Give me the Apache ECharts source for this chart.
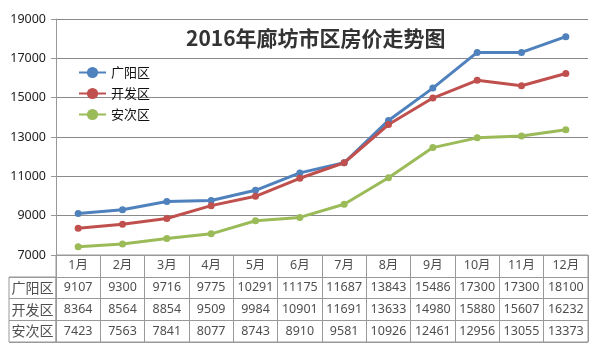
<!DOCTYPE html>
<html><head><meta charset="utf-8">
<script src="https://cdn.jsdelivr.net/npm/echarts@6/dist/echarts.min.js"></script>
<style>html,body{margin:0;padding:0;background:#fff}#c{width:602px;height:356px}</style>
</head><body><div id="c"></div>
<script>
const months = ['1月','2月','3月','4月','5月','6月','7月','8月','9月','10月','11月','12月'];
const seriesNames = ['广阳区','开发区','安次区'];
const guangyang = [9107,9300,9716,9775,10291,11175,11687,13843,15486,17300,17300,18100];
const kaifa = [8364,8564,8854,9509,9984,10901,11691,13633,14980,15880,15607,16232];
const anci = [7423,7563,7841,8077,8743,8910,9581,10926,12461,12956,13055,13373];
const yTicks = {min:7000, max:19000, interval:2000};
const colors = ['#4F81BD','#C0504D','#9BBB59'];
const allValues = [guangyang, kaifa, anci];

const font = 'Noto Sans, Noto Sans CJK SC, sans-serif';
const cells = [];
months.forEach((m,i)=>cells.push([i,0,m]));
allValues.forEach((arr,r)=>arr.forEach((v,i)=>cells.push([i,r+1,String(v)])));
const rowCells = seriesNames.map((n,r)=>[0,r,n]);

const chart = echarts.init(document.getElementById('c'), null, {renderer:'canvas'});
chart.setOption({
  backgroundColor:'#fff',
  animation:false,
  title:{text:'2016年廊坊市区房价走势图', left:181, top:23,
    textStyle:{fontSize:21, fontWeight:'bold', color:'#333', fontFamily:'Noto Sans CJK SC'}},
  legend:{orient:'vertical', left:73, top:61, itemWidth:27, itemHeight:14, itemGap:8,
    data:seriesNames, textStyle:{fontSize:13, color:'#111', fontFamily:'Noto Sans CJK SC'}},
  grid:[
    {left:56, right:14, top:19, bottom:101},
    {left:56, right:14, top:255, height:87, show:true, borderColor:'#999', borderWidth:1},
    {left:9, width:47, top:277, height:65, show:true, borderColor:'#999', borderWidth:1}
  ],
  xAxis:[
    {gridIndex:0, type:'category', data:months, boundaryGap:true, show:false},
    {gridIndex:1, type:'category', data:months, boundaryGap:true, position:'top',
      axisLine:{show:false}, axisTick:{show:false}, axisLabel:{show:false},
      splitLine:{show:true, lineStyle:{color:'#999', width:1}}},
    {gridIndex:2, type:'category', data:['x'], show:false}
  ],
  yAxis:[
    {gridIndex:0, type:'value', min:yTicks.min, max:yTicks.max, interval:yTicks.interval,
      axisLine:{show:true, lineStyle:{color:'#999'}},
      axisTick:{show:true, length:5, lineStyle:{color:'#999'}},
      axisLabel:{fontSize:12.5, color:'#222', margin:10, fontFamily:font, formatter:v=>String(v)},
      splitLine:{show:true, lineStyle:{color:'#8a8a8a', width:1}}},
    {gridIndex:1, type:'category', data:['h'].concat(seriesNames), inverse:true,
      axisLine:{show:false}, axisTick:{show:false}, axisLabel:{show:false},
      splitLine:{show:true, lineStyle:{color:'#999', width:1}}},
    {gridIndex:2, type:'category', data:seriesNames, inverse:true,
      axisLine:{show:false}, axisTick:{show:false}, axisLabel:{show:false},
      splitLine:{show:true, lineStyle:{color:'#999', width:1}}}
  ],
  series: allValues.map((arr,r)=>({
    name:seriesNames[r], type:'line', xAxisIndex:0, yAxisIndex:0, data:arr,
    symbol:'circle', symbolSize:7, showSymbol:true,
    lineStyle:{width:3, color:colors[r]}, itemStyle:{color:colors[r]}
  })).concat([
    {type:'scatter', xAxisIndex:1, yAxisIndex:1, data:cells, symbolSize:1,
      itemStyle:{color:'rgba(0,0,0,0)'}, silent:true,
      label:{show:true, position:'inside', formatter:p=>p.value[2], fontSize:12.5, color:'#222', fontFamily:font}},
    {type:'scatter', xAxisIndex:2, yAxisIndex:2, data:rowCells, symbolSize:1,
      itemStyle:{color:'rgba(0,0,0,0)'}, silent:true,
      label:{show:true, position:'inside', formatter:p=>p.value[2], fontSize:14, color:'#222', fontFamily:'Noto Sans CJK SC'}}
  ])
});
</script></body></html>
